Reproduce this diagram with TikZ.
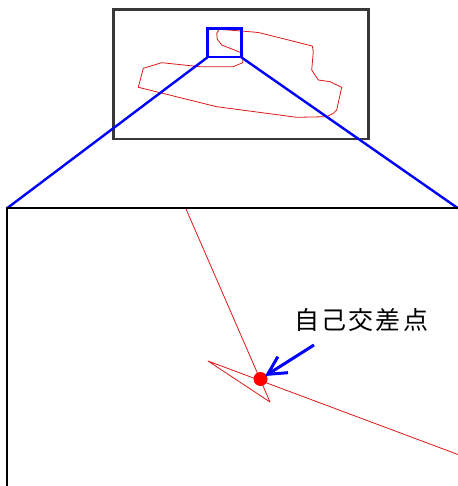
\documentclass[tikz,border=0pt]{standalone}
\usepackage{fontspec}
\newfontfamily\cjk[LetterSpace=9]{Noto Sans CJK JP}
\usetikzlibrary{arrows.meta}
\tikzset{
  frame/.style={draw=black!78, line width=2.2pt},
  bigframe/.style={draw=black, line width=2pt},
  zoomline/.style={draw=blue, line width=2.4pt},
  outline/.style={draw=red!85!black!90, line width=0.8pt, line join=round},
  pointer/.style={draw=blue, line width=3pt, -{Straight Barb[length=18pt,width=19pt,line width=3pt]}},
  label/.style={font=\cjk\fontsize{25}{25}\selectfont, inner sep=0pt, anchor=west}
}
\begin{document}
\begin{tikzpicture}[x=1pt,y=-1pt]
\useasboundingbox (0,0) rectangle (457,486);
% overview frame
\draw[frame] (113.5,9.5) rectangle (368.5,139);
% red polygon in overview
\draw[outline] (219.3,29.3) -- (253.3,32) -- (259.3,32.7) -- (312.3,46) -- (313.3,51.7)
  -- (311.7,70) -- (318.3,80) -- (330,81.7) -- (341.7,87.3) -- (336.7,110)
  -- (333.3,113.3) -- (326.7,116.7) -- (296.7,117.3) -- (216.7,106.7)
  -- (138.3,87.3) -- (143.3,68.3) -- (161.7,62.7) -- (200,66.7) -- (233.3,66.7)
  -- (242.7,62.7) -- (242.7,53.3) -- (221.7,45) -- (217.3,39.3) -- (216.7,33.3) -- cycle;
% zoom window
\coordinate (wtl) at (207.5,28.5);
\coordinate (wbl) at (207.5,57.3);
\coordinate (wbr) at (241.3,57.3);
\coordinate (btl) at (7,208.3);
\coordinate (btr) at (458,208.3);
\coordinate (bbl) at (7,487);
\draw[zoomline] (wtl) rectangle (wbr);
\draw[zoomline] (wbl) -- (btl);
\draw[zoomline] (wbr) -- (btr);
% enlarged frame
\draw[bigframe] (bbl) -- (btl) -- (btr);
% enlarged red path
\coordinate (p1) at (186,209);
\coordinate (p2) at (270,402);
\coordinate (p3) at (208,361);
\coordinate (p4) at (458,454.5);
\draw[outline] (p1) -- (p2) -- (p3) -- (p4);
% self intersection point
\node[circle, fill=red, minimum size=14pt, inner sep=0pt] (dot) at (260.5,379) {};
% label and pointer
\node[label] (lbl) at (294,320.5) {自己交差点};
\coordinate (tail) at (314,345);
\draw[pointer] (tail) -- (265,376);
\end{tikzpicture}
\end{document}
